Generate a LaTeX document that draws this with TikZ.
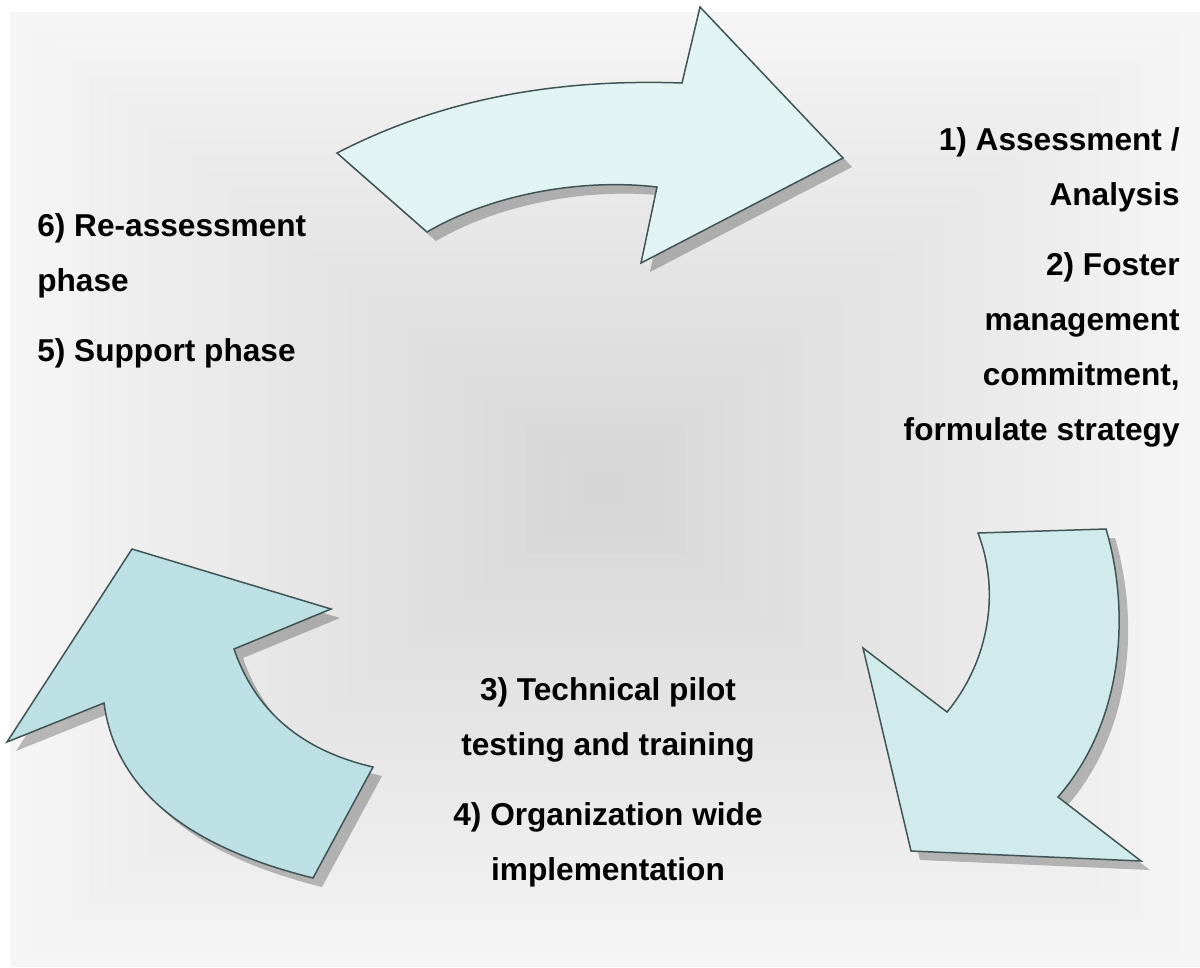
\documentclass[tikz,border=0pt]{standalone}
\usepackage{fontspec}
\setmainfont{Liberation Sans}
\usepackage{tikz}
\usetikzlibrary{shadows}
\definecolor{arrowtop}{RGB}{226,243,243}
\definecolor{arrowright}{RGB}{209,234,236}
\definecolor{arrowleft}{RGB}{188,224,227}
\definecolor{rim}{RGB}{64,84,86}

\begin{document}
\begin{tikzpicture}[x=0.02cm,y=-0.02cm,
	cyclearrow/.style={draw=rim,line width=0.85pt,line join=miter,
		drop shadow={shadow xshift=0.18cm,shadow yshift=-0.18cm,fill=black,opacity=0.25}},
	phaselabel/.style={inner sep=0pt,font=\fontsize{18}{31.2}\selectfont\bfseries}]
	\useasboundingbox (0,0) rectangle (1200,967);
	% background, light at the rim and grey in the middle
	\foreach \i in {0,...,29}{
		\pgfmathsetmacro\shade{4+12*\i/29}
		\fill[black!\shade] ({10+19.8*\i},{12+15.9*\i}) rectangle ({1200-19.8*\i},{967-15.9*\i});
	}
	% the three curved arrows
	\draw[cyclearrow,fill=arrowtop] (337,153) .. controls (430,105) and (540,78) .. (682,83) -- (700,7) -- (843,158) -- (641,263) -- (657,187) .. controls (580,178) and (490,195) .. (427,232) -- cycle;
	\draw[cyclearrow,fill=arrowright] (978,533) -- (1106,529) .. controls (1130,610) and (1125,720) .. (1058,797) -- (1141,861) -- (911,851) -- (863,648) -- (947,712) .. controls (990,660) and (1000,590) .. (978,533) -- cycle;
	\draw[cyclearrow,fill=arrowleft] (132,549) -- (331,609) -- (234,649) .. controls (255,710) and (300,750) .. (373,767) -- (313,878) .. controls (180,845) and (115,785) .. (104,703) -- (7,742) -- cycle;
	% phase texts
	\node[phaselabel,align=right,anchor=north east] (assess) at (1180,127) {1) Assessment /\\Analysis\\[9pt]2) Foster\\management\\commitment,\\formulate strategy};
	\node[phaselabel,align=center,anchor=north] (pilot) at (608,677) {3) Technical pilot\\testing and training\\[9pt]4) Organization wide\\implementation};
	\node[phaselabel,align=left,anchor=north west] (support) at (37,213) {6) Re-assessment\\phase\\[9pt]5) Support phase};
\end{tikzpicture}
\end{document}
